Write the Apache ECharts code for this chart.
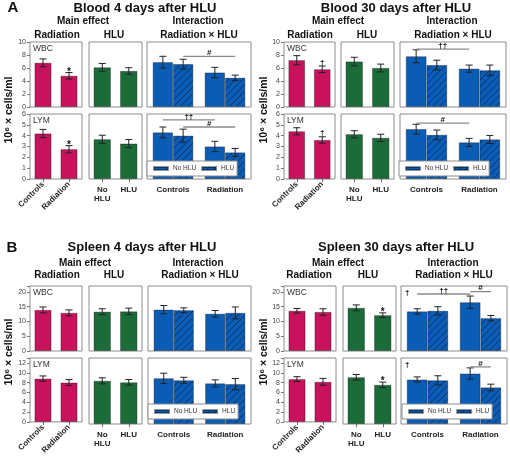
<!DOCTYPE html>
<html><head><meta charset="utf-8">
<script src="https://cdn.jsdelivr.net/npm/echarts@6/dist/echarts.min.js"></script>
<style>html,body{margin:0;padding:0;background:#fff}#c{width:510px;height:457px}</style>
</head><body><div id="c"></div>
<script>
// ================= DATA =================
const mainCats = ['Controls', 'Radiation'];
const hluCats = ['No\nHLU', 'HLU'];
const intCats = ['Controls', 'Radiation'];
const groupNames = ['No HLU', 'HLU'];

const bloodWbcTicks = [0, 2, 4, 6, 8, 10];
const bloodLymTicks = [0, 1, 2, 3, 4, 5, 6];
const spleenWbcTicks = [0, 5, 10, 15, 20];
const spleenLymTicks = [0, 2, 4, 6, 8, 10, 12];

// Blood, 4 days after HLU — WBC
const blood4WbcRad = [6.8, 4.8];
const blood4WbcRadSE = [0.6, 0.5];
const blood4WbcHlu = [6.1, 5.55];
const blood4WbcHluSE = [0.6, 0.5];
const blood4WbcIntNoHlu = [6.9, 5.3];
const blood4WbcIntNoHluSE = [0.9, 0.8];
const blood4WbcIntHlu = [6.6, 4.5];
const blood4WbcIntHluSE = [0.75, 0.4];
// Blood, 4 days after HLU — LYM
const blood4LymRad = [4.2, 2.75];
const blood4LymRadSE = [0.38, 0.33];
const blood4LymHlu = [3.67, 3.27];
const blood4LymHluSE = [0.37, 0.37];
const blood4LymIntNoHlu = [4.3, 3.0];
const blood4LymIntNoHluSE = [0.5, 0.48];
const blood4LymIntHlu = [4.0, 2.45];
const blood4LymIntHluSE = [0.6, 0.37];
// Blood, 30 days after HLU — WBC
const blood30WbcRad = [7.2, 5.8];
const blood30WbcRadSE = [0.7, 0.5];
const blood30WbcHlu = [7.0, 6.0];
const blood30WbcHluSE = [0.65, 0.6];
const blood30WbcIntNoHlu = [7.8, 5.9];
const blood30WbcIntNoHluSE = [1.0, 0.55];
const blood30WbcIntHlu = [6.45, 5.65];
const blood30WbcIntHluSE = [0.75, 0.8];
// Blood, 30 days after HLU — LYM
const blood30LymRad = [4.4, 3.6];
const blood30LymRadSE = [0.33, 0.3];
const blood30LymHlu = [4.13, 3.8];
const blood30LymHluSE = [0.33, 0.33];
const blood30LymIntNoHlu = [4.6, 3.38];
const blood30LymIntNoHluSE = [0.45, 0.37];
const blood30LymIntHlu = [4.07, 3.65];
const blood30LymIntHluSE = [0.45, 0.37];
// Spleen, 4 days after HLU — WBC
const spleen4WbcRad = [13.9, 12.9];
const spleen4WbcRadSE = [1.0, 1.0];
const spleen4WbcHlu = [13.3, 13.4];
const spleen4WbcHluSE = [1.0, 1.1];
const spleen4WbcIntNoHlu = [14.0, 12.6];
const spleen4WbcIntNoHluSE = [1.4, 1.1];
const spleen4WbcIntHlu = [13.8, 12.9];
const spleen4WbcIntHluSE = [0.8, 2.0];
// Spleen, 4 days after HLU — LYM
const spleen4LymRad = [8.8, 8.0];
const spleen4LymRadSE = [0.55, 0.6];
const spleen4LymHlu = [8.5, 8.2];
const spleen4LymHluSE = [0.6, 0.55];
const spleen4LymIntNoHlu = [9.0, 8.0];
const spleen4LymIntNoHluSE = [1.0, 0.7];
const spleen4LymIntHlu = [8.6, 7.85];
const spleen4LymIntHluSE = [0.6, 1.1];
// Spleen, 30 days after HLU — WBC
const spleen30WbcRad = [13.6, 13.2];
const spleen30WbcRadSE = [0.8, 1.1];
const spleen30WbcHlu = [14.6, 12.1];
const spleen30WbcHluSE = [1.0, 0.8];
const spleen30WbcIntNoHlu = [13.4, 16.5];
const spleen30WbcIntNoHluSE = [0.9, 2.1];
const spleen30WbcIntHlu = [13.6, 11.1];
const spleen30WbcIntHluSE = [1.4, 0.9];
// Spleen, 30 days after HLU — LYM
const spleen30LymRad = [8.7, 8.15];
const spleen30LymRadSE = [0.5, 0.7];
const spleen30LymHlu = [9.2, 7.7];
const spleen30LymHluSE = [0.55, 0.55];
const spleen30LymIntNoHlu = [8.77, 9.95];
const spleen30LymIntNoHluSE = [0.5, 1.1];
const spleen30LymIntHlu = [8.6, 7.2];
const spleen30LymIntHluSE = [0.9, 0.65];

// significance marks: panel 0 = radiation, 1 = HLU; cat index; symbol
const blood4WbcMarks = [[0, 1, '*']];
const blood4LymMarks = [[0, 1, '*']];
const blood30WbcMarks = [[0, 1, '†']];
const blood30LymMarks = [[0, 1, '†']];
const spleen30WbcMarks = [[1, 1, '*']];
const spleen30LymMarks = [[1, 1, '*']];
// interaction brackets: [fromCat, fromGroup, toCat, toGroup, y value, label]
const blood4WbcBrackets = [[0, 1, 1, 1, 7.8, '#']];
const blood4LymBrackets = [[0, 0, 1, 0, 5.45, '††'], [0, 1, 1, 1, 4.8, '#']];
const blood30WbcBrackets = [[0, 0, 1, 0, 8.9, '††']];
const blood30LymBrackets = [[0, 0, 1, 0, 5.15, '#']];
const spleen30WbcBrackets = [[0, 0, 1, 0, 19.3, '††'], [1, 0, 1, 1, 20.1, '#']];
const spleen30LymBrackets = [[1, 0, 1, 1, 11.25, '#']];

// ================= STYLE / LAYOUT =================
const FONT = '"Liberation Sans", Arial, Helvetica, sans-serif';
const MAGENTA = '#c8135c';
const GREEN = '#1c6c3a';
const BLUE = '#0b5cb5';
const HATCH_LINE = '#06346e';
const FRAME = '#8c8c8c';
const CAT_GAP = 0.22;           // interaction barCategoryGap
const SIDE = (1 - CAT_GAP) / 4; // offset of each group bar centre

function hatchPattern() {
  const c = document.createElement('canvas');
  c.width = 7; c.height = 7;
  const ctx = c.getContext('2d');
  ctx.fillStyle = BLUE; ctx.fillRect(0, 0, 7, 7);
  ctx.strokeStyle = HATCH_LINE; ctx.lineWidth = 1;
  ctx.beginPath();
  ctx.moveTo(-1, 8); ctx.lineTo(8, -1);
  ctx.moveTo(-1, 1); ctx.lineTo(1, -1);
  ctx.moveTo(6, 8); ctx.lineTo(8, 6);
  ctx.stroke();
  return c;
}
const HATCH = { image: hatchPattern(), repeat: 'repeat' };

function row(label, ticks, rad, radSE, hlu, hluSE, intNo, intNoSE, intHlu, intHluSE, marks, brackets, corner) {
  return { label, ticks, rad, radSE, hlu, hluSE, intNo, intNoSE, intHlu, intHluSE, marks: marks || [], brackets: brackets || [], corner };
}

const blocks = [
  { title: 'Blood 4 days after HLU', letter: 'A', letterXY: [13, 8], titleXY: [145, 8],
    mainXY: [83, 21.5], radXY: [57, 35], hluXY: [114, 35], intXY: [198, 21.5], intSubXY: [199, 35],
    yNameXY: [9, 110], legendXY: [147, 161],
    cols: [[30, 82], [89, 142], [147, 251]], rowY: [[42, 107], [114, 179]], yMax: [10, 6],
    rows: [
      row('WBC', bloodWbcTicks, blood4WbcRad, blood4WbcRadSE, blood4WbcHlu, blood4WbcHluSE, blood4WbcIntNoHlu, blood4WbcIntNoHluSE, blood4WbcIntHlu, blood4WbcIntHluSE, blood4WbcMarks, blood4WbcBrackets),
      row('LYM', bloodLymTicks, blood4LymRad, blood4LymRadSE, blood4LymHlu, blood4LymHluSE, blood4LymIntNoHlu, blood4LymIntNoHluSE, blood4LymIntHlu, blood4LymIntHluSE, blood4LymMarks, blood4LymBrackets)
    ] },
  { title: 'Blood 30 days after HLU', letter: null, titleXY: [396, 8],
    mainXY: [338, 21.5], radXY: [310, 35], hluXY: [367, 35], intXY: [452, 21.5], intSubXY: [453, 35],
    yNameXY: [264, 110], legendXY: [399, 161],
    cols: [[284, 335], [341, 394], [400, 506]], rowY: [[42, 107], [114, 179]], yMax: [10, 6],
    rows: [
      row('WBC', bloodWbcTicks, blood30WbcRad, blood30WbcRadSE, blood30WbcHlu, blood30WbcHluSE, blood30WbcIntNoHlu, blood30WbcIntNoHluSE, blood30WbcIntHlu, blood30WbcIntHluSE, blood30WbcMarks, blood30WbcBrackets),
      row('LYM', bloodLymTicks, blood30LymRad, blood30LymRadSE, blood30LymHlu, blood30LymHluSE, blood30LymIntNoHlu, blood30LymIntNoHluSE, blood30LymIntHlu, blood30LymIntHluSE, blood30LymMarks, blood30LymBrackets)
    ] },
  { title: 'Spleen 4 days after HLU', letter: 'B', letterXY: [12, 248], titleXY: [142, 247],
    mainXY: [85, 263], radXY: [57, 275.5], hluXY: [114, 275.5], intXY: [198, 263], intSubXY: [200, 275.5],
    yNameXY: [9, 352], legendXY: [148, 404],
    cols: [[30, 82], [89, 142], [148, 251]], rowY: [[286, 351], [358, 424]], yMax: [22, 13],
    rows: [
      row('WBC', spleenWbcTicks, spleen4WbcRad, spleen4WbcRadSE, spleen4WbcHlu, spleen4WbcHluSE, spleen4WbcIntNoHlu, spleen4WbcIntNoHluSE, spleen4WbcIntHlu, spleen4WbcIntHluSE),
      row('LYM', spleenLymTicks, spleen4LymRad, spleen4LymRadSE, spleen4LymHlu, spleen4LymHluSE, spleen4LymIntNoHlu, spleen4LymIntNoHluSE, spleen4LymIntHlu, spleen4LymIntHluSE)
    ] },
  { title: 'Spleen 30 days after HLU', letter: null, titleXY: [396, 247],
    mainXY: [338, 263], radXY: [309, 275.5], hluXY: [368, 275.5], intXY: [453, 263], intSubXY: [454, 275.5],
    yNameXY: [264, 352], legendXY: [402, 404],
    cols: [[284, 336], [343, 396], [401, 507]], rowY: [[286, 351], [358, 424]], yMax: [22, 13],
    rows: [
      row('WBC', spleenWbcTicks, spleen30WbcRad, spleen30WbcRadSE, spleen30WbcHlu, spleen30WbcHluSE, spleen30WbcIntNoHlu, spleen30WbcIntNoHluSE, spleen30WbcIntHlu, spleen30WbcIntHluSE, spleen30WbcMarks, spleen30WbcBrackets, '†'),
      row('LYM', spleenLymTicks, spleen30LymRad, spleen30LymRadSE, spleen30LymHlu, spleen30LymHluSE, spleen30LymIntNoHlu, spleen30LymIntNoHluSE, spleen30LymIntHlu, spleen30LymIntHluSE, spleen30LymMarks, spleen30LymBrackets, '†')
    ] }
];

// ================= BUILD =================
const option = { animation: false, backgroundColor: '#fff', textStyle: { fontFamily: FONT },
  grid: [], xAxis: [], yAxis: [], series: [], legend: [], graphic: [] };

function text(str, x, y, font, extra) {
  option.graphic.push(Object.assign({ type: 'text', x, y, silent: true, z: 10,
    style: Object.assign({ text: str, font: font + ' ' + FONT, fill: '#111', align: 'center', verticalAlign: 'middle' }, (extra && extra.style) || {}) },
    extra && extra.rotation ? { rotation: extra.rotation } : {}));
}

function addPanel(xr, yr, cats, yMax, ticks, first, xl) {
  const g = option.grid.length;
  option.grid.push({ left: xr[0], top: yr[0], width: xr[1] - xr[0], height: yr[1] - yr[0],
    show: true, borderColor: FRAME, borderWidth: 1, backgroundColor: 'transparent' });
  option.xAxis.push({ type: 'category', gridIndex: g, data: cats,
    axisLine: { show: false }, splitLine: { show: false },
    axisTick: { show: !!(xl && xl.tick), alignWithLabel: true, length: 3, lineStyle: { color: '#666' } },
    axisLabel: xl ? { show: true, interval: 0, rotate: xl.rotate || 0, margin: xl.margin || 4,
      fontSize: 8, fontWeight: 'bold', color: '#222', lineHeight: 9, fontFamily: FONT } : { show: false } });
  option.yAxis.push({ type: 'value', gridIndex: g, min: ticks[0], max: yMax, interval: ticks[1] - ticks[0],
    axisLine: { show: false }, splitLine: { show: false },
    axisTick: { show: first, length: 3, lineStyle: { color: '#777' } },
    axisLabel: { show: first, fontSize: 7, color: '#444', margin: 4, fontFamily: FONT,
      formatter: v => ticks.indexOf(v) >= 0 ? String(v) : '' } });
  return g;
}

function barSeries(g, name, data, color, extra) {
  return Object.assign({ type: 'bar', name, xAxisIndex: g, yAxisIndex: g, data, z: 2,
    itemStyle: { color, borderColor: 'rgba(0,0,0,0.4)', borderWidth: 0.8 } }, extra || {});
}

function errSeries(g, means, ses, side) {
  return { type: 'custom', xAxisIndex: g, yAxisIndex: g, z: 5, silent: true,
    data: means.map((m, i) => [i, m, ses[i]]), encode: { x: 0, y: 1 },
    renderItem(params, api) {
      const w = api.size([1, 0])[0];
      const c = api.value(0), m = api.value(1), s = api.value(2);
      const x = api.coord([c, m])[0] + side * w;
      const t = api.coord([c, m + s])[1], b = api.coord([c, m - s])[1];
      const st = { stroke: '#222', lineWidth: 1 };
      const k = 3.5;
      return { type: 'group', children: [
        { type: 'line', shape: { x1: x, y1: t, x2: x, y2: b }, style: st },
        { type: 'line', shape: { x1: x - k, y1: t, x2: x + k, y2: t }, style: st },
        { type: 'line', shape: { x1: x - k, y1: b, x2: x + k, y2: b }, style: st } ] };
    } };
}

function markSeries(g, items) {
  // items: [cat, top value, symbol]
  return { type: 'custom', xAxisIndex: g, yAxisIndex: g, z: 6, silent: true,
    data: items.map(d => [d[0], d[1]]), encode: { x: 0, y: 1 },
    renderItem(params, api) {
      const p = api.coord([api.value(0), api.value(1)]);
      const sym = items[params.dataIndex][2];
      return { type: 'text', x: p[0], y: p[1] + (sym === '*' ? -0.5 : 0.5),
        style: { text: sym, font: (sym === '*' ? 'bold 10px ' : 'bold 8px ') + FONT, fill: '#111',
          align: 'center', verticalAlign: sym === '*' ? 'middle' : 'bottom' } };
    } };
}

function bracketSeries(g, items) {
  return { type: 'custom', xAxisIndex: g, yAxisIndex: g, z: 6, silent: true,
    data: items.map(d => [d[0], d[4], d[2]]), encode: { x: 0, y: 1 },
    renderItem(params, api) {
      const d = items[params.dataIndex];
      const w = api.size([1, 0])[0];
      const p1 = api.coord([d[0], d[4]]);
      const p2 = api.coord([d[2], d[4]]);
      const x1 = p1[0] + (d[1] ? SIDE : -SIDE) * w;
      const x2 = p2[0] + (d[3] ? SIDE : -SIDE) * w;
      return { type: 'group', children: [
        { type: 'line', shape: { x1, y1: p1[1], x2, y2: p1[1] }, style: { stroke: '#8a8a8a', lineWidth: 1.3 } },
        { type: 'text', x: (x1 + x2) / 2, y: p1[1] + 0.5,
          style: { text: d[5], font: 'bold 8px ' + FONT, fill: '#111', align: 'center', verticalAlign: 'bottom' } } ] };
    } };
}

blocks.forEach(blk => {
  if (blk.letter) text(blk.letter, blk.letterXY[0], blk.letterXY[1], 'bold 15px');
  text(blk.title, blk.titleXY[0], blk.titleXY[1], 'bold 13px');
  text('Main effect', blk.mainXY[0], blk.mainXY[1], 'bold 10px');
  text('Radiation', blk.radXY[0], blk.radXY[1], 'bold 10px');
  text('HLU', blk.hluXY[0], blk.hluXY[1], 'bold 10px');
  text('Interaction', blk.intXY[0], blk.intXY[1], 'bold 10px');
  text('Radiation × HLU', blk.intSubXY[0], blk.intSubXY[1], 'bold 10px');
  text('10⁶ × cells/ml', blk.yNameXY[0], blk.yNameXY[1], 'bold 10.5px', { rotation: Math.PI / 2 });

  blk.rows.forEach((r, ri) => {
    const yr = blk.rowY[ri], yMax = blk.yMax[ri];
    const lym = ri === 1;
    const g1 = addPanel(blk.cols[0], yr, mainCats, yMax, r.ticks, true, lym ? { rotate: 45, tick: true, margin: 4 } : null);
    const g2 = addPanel(blk.cols[1], yr, hluCats, yMax, r.ticks, false, lym ? { tick: true, margin: 6 } : null);
    const g3 = addPanel(blk.cols[2], yr, intCats, yMax, r.ticks, false, lym ? { tick: false, margin: 6 } : null);
    option.series.push(
      barSeries(g1, 'Radiation', r.rad, MAGENTA, { barWidth: '65%' }), errSeries(g1, r.rad, r.radSE, 0),
      barSeries(g2, 'HLU main', r.hlu, GREEN, { barWidth: '65%' }), errSeries(g2, r.hlu, r.hluSE, 0),
      barSeries(g3, groupNames[0], r.intNo, BLUE, { barGap: '0%', barCategoryGap: (CAT_GAP * 100) + '%' }),
      barSeries(g3, groupNames[1], r.intHlu, HATCH, { barGap: '0%', barCategoryGap: (CAT_GAP * 100) + '%' }),
      errSeries(g3, r.intNo, r.intNoSE, -SIDE), errSeries(g3, r.intHlu, r.intHluSE, SIDE));
    const gs = [g1, g2];
    const means = [r.rad, r.hlu], ses = [r.radSE, r.hluSE];
    r.marks.forEach(m => {
      option.series.push(markSeries(gs[m[0]], [[m[1], means[m[0]][m[1]] + ses[m[0]][m[1]], m[2]]]));
    });
    if (r.brackets.length) option.series.push(bracketSeries(g3, r.brackets));
    text(r.label, blk.cols[0][0] + 3, yr[0] + 2.5, '8.5px', { style: { align: 'left', verticalAlign: 'top', fill: '#333' } });
    if (r.corner) text(r.corner, blk.cols[2][0] + 4, yr[0] + 3, 'bold 8px', { style: { align: 'left', verticalAlign: 'top' } });
  });

  option.legend.push({ data: groupNames, left: blk.legendXY[0], top: blk.legendXY[1], orient: 'horizontal',
    selectedMode: false, icon: 'rect', itemWidth: 14, itemHeight: 3, itemGap: 5,
    padding: [4, 3, 4, 6], backgroundColor: '#fff', borderColor: FRAME, borderWidth: 1, z: 8,
    textStyle: { fontSize: 6.5, color: '#333', fontFamily: FONT } });
});

const chart = echarts.init(document.getElementById('c'), null, { renderer: 'canvas' });
chart.setOption(option);
</script>
</body></html>
